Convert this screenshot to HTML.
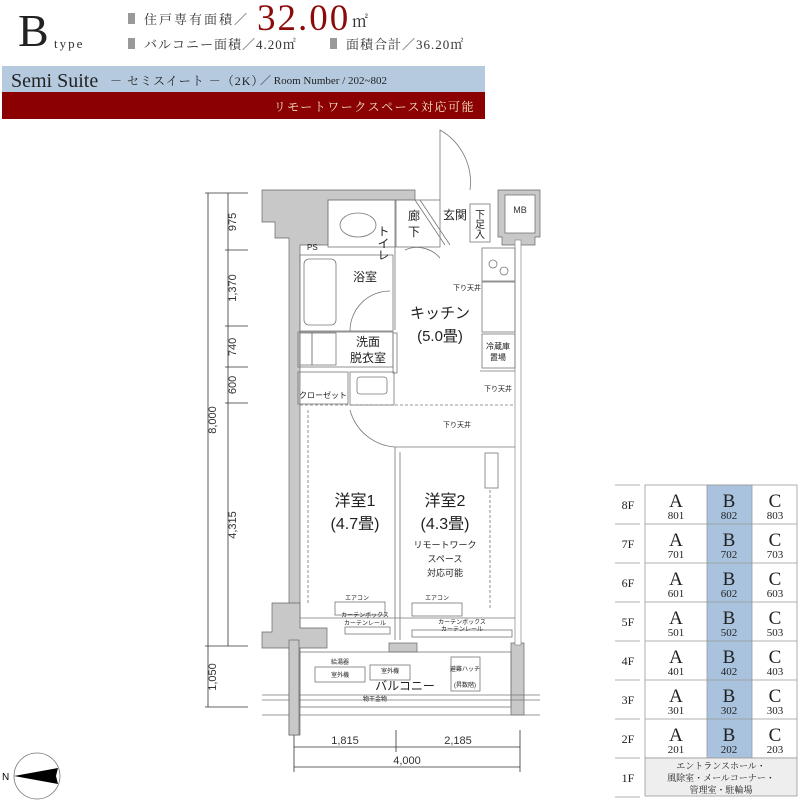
<!DOCTYPE html>
<html><head><meta charset="utf-8"><style>
html,body{margin:0;padding:0;background:#fff;}
svg{display:block;}
.s{font-family:"Liberation Serif","Noto Serif CJK SC",serif;}
.g{font-family:"Liberation Sans","Noto Sans CJK JP",sans-serif;}
</style></head><body>
<svg width="800" height="800" viewBox="0 0 800 800" xmlns="http://www.w3.org/2000/svg">
<!-- header -->
<text x="18" y="46" class="s" font-size="46" fill="#222">B</text>
<text x="54" y="48" class="s" font-size="13" fill="#333" letter-spacing="2">type</text>
<rect x="128" y="13" width="7" height="11" fill="#999"/>
<text x="144" y="24" class="s" font-size="13" fill="#333" letter-spacing="2">住戸専有面積／</text>
<text x="257" y="30" class="s" font-size="37" fill="#8b0a0a" letter-spacing="2">32.00</text>
<text x="352" y="27" class="s" font-size="16" fill="#333">㎡</text>
<rect x="128" y="38" width="7" height="11" fill="#999"/>
<text x="144" y="49" class="s" font-size="13" fill="#333" letter-spacing="1">バルコニー面積／4.20㎡</text>
<rect x="330" y="38" width="7" height="11" fill="#999"/>
<text x="346" y="49" class="s" font-size="13" fill="#333" letter-spacing="1">面積合計／36.20㎡</text>
<rect x="2" y="66" width="483" height="26" fill="#b5cadf"/>
<text x="11" y="87" class="s" font-size="20" fill="#222">Semi Suite</text>
<text x="110" y="85" class="s" font-size="12" fill="#222" letter-spacing="1">－ セミスイート －（2K）</text>
<text x="260" y="84" class="s" font-size="11" fill="#222">／ Room Number / 202~802</text>
<rect x="2" y="92" width="483" height="27" fill="#8b0000"/>
<text x="475" y="111" text-anchor="end" class="s" font-size="12" fill="#f3e6c0" letter-spacing="1.5">リモートワークスペース対応可能</text>

<!-- dimensions left -->
<g stroke="#333" stroke-width="0.8" fill="none">
<line x1="208" y1="193" x2="208" y2="707"/>
<line x1="228" y1="193" x2="228" y2="646"/>
<line x1="205" y1="193" x2="248" y2="193"/>
<line x1="225" y1="250" x2="248" y2="250"/>
<line x1="225" y1="326" x2="248" y2="326"/>
<line x1="225" y1="367" x2="248" y2="367"/>
<line x1="225" y1="403" x2="248" y2="403"/>
<line x1="205" y1="646" x2="248" y2="646"/>
<line x1="205" y1="707" x2="248" y2="707"/>
<line x1="294" y1="730" x2="294" y2="772"/>
<line x1="396" y1="730" x2="396" y2="752"/>
<line x1="520" y1="730" x2="520" y2="772"/>
<line x1="294" y1="747" x2="520" y2="747"/>
<line x1="294" y1="767" x2="520" y2="767"/>
</g>
<g class="g" font-size="11" fill="#333">
<text transform="translate(236,222) rotate(-90)" text-anchor="middle">975</text>
<text transform="translate(236,288) rotate(-90)" text-anchor="middle">1,370</text>
<text transform="translate(236,347) rotate(-90)" text-anchor="middle">740</text>
<text transform="translate(236,385) rotate(-90)" text-anchor="middle">600</text>
<text transform="translate(236,525) rotate(-90)" text-anchor="middle">4,315</text>
<text transform="translate(216,420) rotate(-90)" text-anchor="middle">8,000</text>
<text transform="translate(216,677) rotate(-90)" text-anchor="middle">1,050</text>
<text x="345" y="744" text-anchor="middle">1,815</text>
<text x="458" y="744" text-anchor="middle">2,185</text>
<text x="407" y="764" text-anchor="middle">4,000</text>
</g>

<!-- walls -->
<g fill="#c8c8c8" stroke="#666" stroke-width="0.7">
<path d="M262 190 H415 V200 H328 V245 H300 V735 H289 V238 H275 V222 H262 Z"/>
<path d="M498 190 H540 V237 H535 V245 H502 V237 H498 Z" />
<path d="M272 603 H300 V628 H327 V648 H262 V632 H272 Z"/>
<rect x="389" y="643" width="28" height="9"/>
<rect x="511" y="643" width="13" height="72"/>
</g>
<rect x="505" y="195" width="30" height="38" fill="#fff" stroke="#666" stroke-width="0.7"/>
<text x="520" y="213" text-anchor="middle" class="g" font-size="9" fill="#333">MB</text>
<rect x="515" y="240" width="6" height="405" fill="#fff" stroke="#888" stroke-width="0.7"/>

<g fill="none" stroke="#777" stroke-width="0.8">
<rect x="328" y="200" width="67" height="47"/>
<rect x="396" y="200" width="44" height="47"/>
<rect x="470" y="204" width="20" height="38"/>
<path d="M440 200 V130 A60 60 0 0 1 470 190"/>
<line x1="415" y1="200" x2="445" y2="245"/>
<line x1="420" y1="200" x2="450" y2="245"/>
<ellipse cx="358" cy="225" rx="18" ry="12"/>
<rect x="300" y="255" width="93" height="76"/>
<rect x="304" y="259" width="32" height="66" rx="5"/>
<path d="M350 331 A40 40 0 0 1 390 291"/>
<path d="M395 246 V330"/>
<path d="M405 250 A30 30 0 0 1 440 258"/>
<rect x="298" y="332" width="95" height="35"/>
<rect x="300" y="333" width="12" height="32"/>
<rect x="312" y="333" width="24" height="32"/>
<rect x="393" y="333" width="4" height="40"/>
<rect x="298" y="372" width="50" height="32"/>
<rect x="350" y="372" width="44" height="33"/>
<rect x="357" y="377" width="30" height="17" rx="3"/>
<rect x="482" y="248" width="33" height="33"/>
<circle cx="493" cy="264" r="4"/><circle cx="504" cy="271" r="4"/>
<rect x="482" y="282" width="33" height="50"/>
<rect x="482" y="334" width="33" height="34"/>
<line x1="480" y1="371" x2="515" y2="371"/>
<line x1="300" y1="405" x2="515" y2="405" stroke-dasharray="3 2"/>
<line x1="395" y1="447" x2="515" y2="447"/>
<line x1="395" y1="447" x2="395" y2="640"/>
<line x1="400" y1="452" x2="400" y2="640"/>
<path d="M395 447 A50 50 0 0 1 350 410"/>
<rect x="485" y="453" width="13" height="35"/>
<line x1="308" y1="410" x2="308" y2="605" stroke-dasharray="3 2"/>
<line x1="490" y1="490" x2="490" y2="610" stroke-dasharray="3 2"/>
<rect x="335" y="602" width="50" height="13"/>
<rect x="412" y="603" width="50" height="13"/>
<line x1="300" y1="618" x2="515" y2="618"/>
<rect x="345" y="627" width="45" height="7"/>
<rect x="412" y="630" width="100" height="7"/>
<rect x="300" y="652" width="211" height="55"/>
<rect x="315" y="667" width="50" height="15"/>
<rect x="370" y="665" width="40" height="15"/>
<rect x="451" y="657" width="29" height="34"/>
<line x1="262" y1="695" x2="540" y2="695"/>
<line x1="262" y1="700" x2="540" y2="700"/>
<line x1="262" y1="715" x2="540" y2="715"/>
</g>
<g fill="#fff" stroke="#666" stroke-width="0.7">
<rect x="289" y="640" width="10" height="95" fill="#c8c8c8"/>
</g>

<g class="g" fill="#222">
<text x="383" y="225" font-size="12" writing-mode="tb">トイレ</text>
<text x="414" y="220" font-size="12" text-anchor="middle">廊</text>
<text x="414" y="236" font-size="12" text-anchor="middle">下</text>
<text x="455" y="219" font-size="12" text-anchor="middle">玄関</text>
<text x="480" y="218" font-size="10" text-anchor="middle">下</text>
<text x="480" y="228" font-size="10" text-anchor="middle">足</text>
<text x="480" y="238" font-size="10" text-anchor="middle">入</text>
<text x="307" y="250" font-size="8">PS</text>
<text x="365" y="281" font-size="12" text-anchor="middle">浴室</text>
<text x="440" y="318" font-size="15" text-anchor="middle">キッチン</text>
<text x="440" y="341" font-size="15" text-anchor="middle">(5.0畳)</text>
<text x="368" y="346" font-size="12" text-anchor="middle">洗面</text>
<text x="368" y="362" font-size="12" text-anchor="middle">脱衣室</text>
<text x="323" y="398" font-size="8" text-anchor="middle">クローゼット</text>
<text x="498" y="349" font-size="8" text-anchor="middle">冷蔵庫</text>
<text x="498" y="360" font-size="8" text-anchor="middle">置場</text>
<text x="453" y="290" font-size="7">下り天井</text>
<text x="498" y="391" font-size="7" text-anchor="middle">下り天井</text>
<text x="457" y="427" font-size="7" text-anchor="middle">下り天井</text>
<text x="355" y="506" font-size="16" text-anchor="middle">洋室1</text>
<text x="355" y="529" font-size="16" text-anchor="middle">(4.7畳)</text>
<text x="445" y="506" font-size="16" text-anchor="middle">洋室2</text>
<text x="445" y="529" font-size="16" text-anchor="middle">(4.3畳)</text>
<text x="445" y="548" font-size="9" text-anchor="middle">リモートワーク</text>
<text x="445" y="562" font-size="9" text-anchor="middle">スペース</text>
<text x="445" y="576" font-size="9" text-anchor="middle">対応可能</text>
<text x="357" y="600" font-size="6" text-anchor="middle">エアコン</text>
<text x="437" y="600" font-size="6" text-anchor="middle">エアコン</text>
<text x="365" y="617" font-size="6" text-anchor="middle">カーテンボックス</text>
<text x="365" y="625" font-size="6" text-anchor="middle">カーテンレール</text>
<text x="462" y="624" font-size="6" text-anchor="middle">カーテンボックス</text>
<text x="462" y="631" font-size="6" text-anchor="middle">カーテンレール</text>
<text x="340" y="664" font-size="6" text-anchor="middle">給湯器</text>
<text x="340" y="677" font-size="6" text-anchor="middle">室外機</text>
<text x="390" y="673" font-size="6" text-anchor="middle">室外機</text>
<text x="465" y="671" font-size="6" text-anchor="middle">避難ハッチ</text>
<text x="465" y="687" font-size="6" text-anchor="middle">(昇数階)</text>
<text x="405" y="690" font-size="12" text-anchor="middle">バルコニー</text>
<text x="375" y="701" font-size="6" text-anchor="middle">物干金物</text>
</g>

<circle cx="37" cy="776" r="23" fill="none" stroke="#777" stroke-width="0.8"/>
<path d="M14 776 L58 768 L56 776 L58 784 Z" fill="#000"/>
<text x="2" y="780" class="g" font-size="10">N</text>

<g stroke="#999" stroke-width="0.8">
<line x1="615" y1="485" x2="640" y2="485"/>
<rect x="645" y="485" width="152" height="273" fill="#fff"/>
<rect x="707" y="485" width="45" height="273" fill="#a9c3de"/>
<rect x="645" y="758" width="152" height="38" fill="#eee"/>
<line x1="645" y1="524" x2="797" y2="524"/>
<line x1="645" y1="563" x2="797" y2="563"/>
<line x1="645" y1="602" x2="797" y2="602"/>
<line x1="645" y1="641" x2="797" y2="641"/>
<line x1="645" y1="680" x2="797" y2="680"/>
<line x1="645" y1="719" x2="797" y2="719"/>
<line x1="615" y1="524" x2="640" y2="524"/>
<line x1="615" y1="563" x2="640" y2="563"/>
<line x1="615" y1="602" x2="640" y2="602"/>
<line x1="615" y1="641" x2="640" y2="641"/>
<line x1="615" y1="680" x2="640" y2="680"/>
<line x1="615" y1="719" x2="640" y2="719"/>
<line x1="615" y1="758" x2="640" y2="758"/>
<line x1="615" y1="797" x2="640" y2="797"/>
</g>
<g class="s" fill="#222" text-anchor="middle">
<g font-size="12"><text x="628" y="509">8F</text><text x="628" y="548">7F</text><text x="628" y="587">6F</text><text x="628" y="626">5F</text><text x="628" y="665">4F</text><text x="628" y="704">3F</text><text x="628" y="743">2F</text><text x="628" y="782">1F</text></g>
<g font-size="19">
<text x="676" y="507">A</text><text x="729" y="507">B</text><text x="775" y="507">C</text>
<text x="676" y="546">A</text><text x="729" y="546">B</text><text x="775" y="546">C</text>
<text x="676" y="585">A</text><text x="729" y="585">B</text><text x="775" y="585">C</text>
<text x="676" y="624">A</text><text x="729" y="624">B</text><text x="775" y="624">C</text>
<text x="676" y="663">A</text><text x="729" y="663">B</text><text x="775" y="663">C</text>
<text x="676" y="702">A</text><text x="729" y="702">B</text><text x="775" y="702">C</text>
<text x="676" y="741">A</text><text x="729" y="741">B</text><text x="775" y="741">C</text>
</g>
<g font-size="11">
<text x="676" y="519">801</text><text x="729" y="519">802</text><text x="775" y="519">803</text>
<text x="676" y="558">701</text><text x="729" y="558">702</text><text x="775" y="558">703</text>
<text x="676" y="597">601</text><text x="729" y="597">602</text><text x="775" y="597">603</text>
<text x="676" y="636">501</text><text x="729" y="636">502</text><text x="775" y="636">503</text>
<text x="676" y="675">401</text><text x="729" y="675">402</text><text x="775" y="675">403</text>
<text x="676" y="714">301</text><text x="729" y="714">302</text><text x="775" y="714">303</text>
<text x="676" y="753">201</text><text x="729" y="753">202</text><text x="775" y="753">203</text>
</g>
<g font-size="9"><text x="721" y="769">エントランスホール・</text><text x="721" y="781">風除室・メールコーナー・</text><text x="721" y="793">管理室・駐輪場</text></g>
</g>
</svg>
</body></html>
